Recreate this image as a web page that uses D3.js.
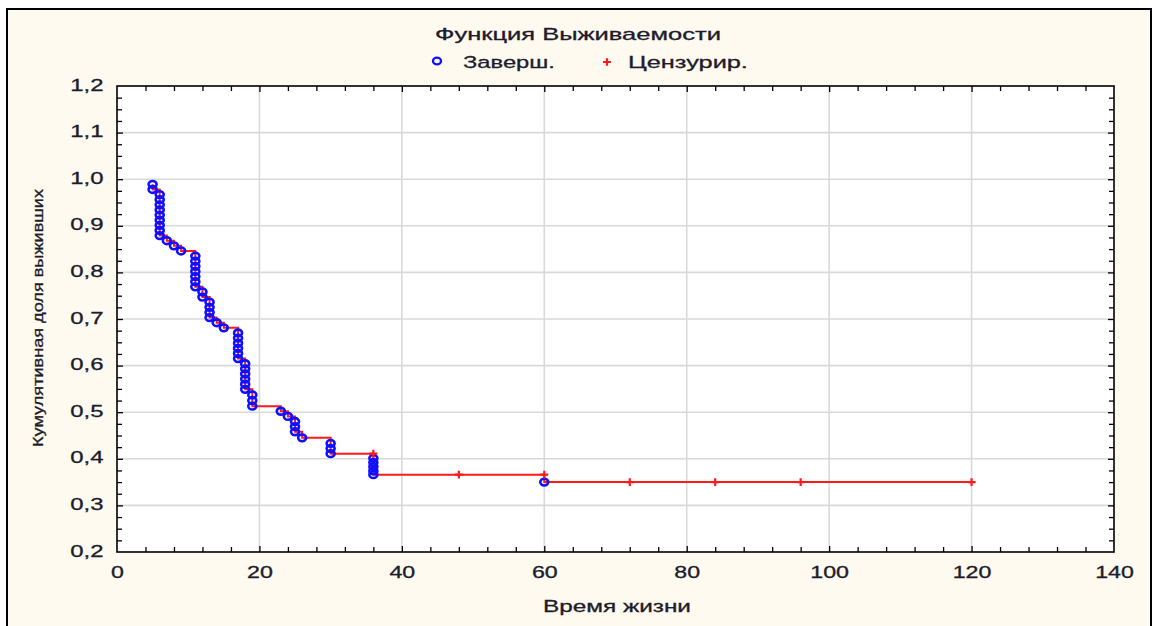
<!DOCTYPE html>
<html>
<head>
<meta charset="utf-8">
<script src="https://cdn.jsdelivr.net/npm/d3@7"></script>
<style>
  html, body { margin: 0; padding: 0; background: #ffffff; }
  svg { display: block; }
  text { font-family: "Liberation Sans", Arial, sans-serif; fill: #1c1c2c; stroke: #1c1c2c; stroke-width: 0.3px; }
</style>
</head>
<body>
<svg id="chart" width="1155" height="626"></svg>
<script>
// Product-limit estimate: completed observations (time, cumulative proportion surviving)
const completedTime = [
  5, 5,
  6, 6, 6, 6, 6, 6, 6, 6, 6,
  7, 8, 9,
  11, 11, 11, 11, 11, 11, 11,
  12, 12,
  13, 13, 13, 13,
  14, 15,
  17, 17, 17, 17, 17, 17,
  18, 18, 18, 18, 18, 18,
  19, 19, 19,
  23, 24,
  25, 25, 25,
  26,
  30, 30, 30,
  36, 36, 36, 36, 36,
  60
];
const completedSurv = [
  0.989, 0.978,
  0.967, 0.956, 0.945, 0.934, 0.923, 0.912, 0.901, 0.890, 0.879,
  0.868, 0.857, 0.846,
  0.835, 0.824, 0.813, 0.802, 0.791, 0.780, 0.769,
  0.758, 0.747,
  0.736, 0.725, 0.714, 0.703,
  0.692, 0.681,
  0.670, 0.659, 0.648, 0.637, 0.626, 0.615,
  0.604, 0.593, 0.582, 0.571, 0.560, 0.549,
  0.537, 0.525, 0.513,
  0.502, 0.491,
  0.480, 0.469, 0.458,
  0.445,
  0.433, 0.422, 0.411,
  0.401, 0.392, 0.383, 0.374, 0.366,
  0.350
];
// Censored observations
const censoredTime = [36, 48, 60, 72, 84, 96, 120];
const censoredSurv = [0.411, 0.366, 0.366, 0.350, 0.350, 0.350, 0.350];

const xTicks = [0, 20, 40, 60, 80, 100, 120, 140];
const yTicks = [0.2, 0.3, 0.4, 0.5, 0.6, 0.7, 0.8, 0.9, 1.0, 1.1, 1.2];
const xMinorStep = 4;
const yMinorStep = 0.025;

const titleText = "Функция Выживаемости";
const legendLabels = ["Заверш.", "Цензурир."];
const xTitle = "Время жизни";
const yTitle = "Кумулятивная доля выживших";

const svg = d3.select("#chart");
const W = 1155, H = 626;
const plot = { left: 117, top: 86, right: 1114, bottom: 552 };
const STRETCH = 1.45;   // the chart's type is drawn wide
const FS = 16;

const x = d3.scaleLinear().domain([0, 140]).range([plot.left, plot.right]);
const y = d3.scaleLinear().domain([0.2, 1.2]).range([plot.bottom, plot.top]);

const commaFmt = v => d3.format(".1f")(v).replace(".", ",");

// panel background and frame
svg.append("rect").attr("x", 0).attr("y", 0).attr("width", W).attr("height", H).attr("fill", "#ffffff");
svg.append("rect")
  .attr("x", 7).attr("y", 9).attr("width", 1144).attr("height", 660)
  .attr("fill", "#fffaf0").attr("stroke", "#000").attr("stroke-width", 2);

// plotting area
svg.append("rect")
  .attr("x", plot.left).attr("y", plot.top)
  .attr("width", plot.right - plot.left).attr("height", plot.bottom - plot.top)
  .attr("fill", "#ffffff");

// grid
const grid = svg.append("g").attr("stroke", "#d9d9d9").attr("stroke-width", 1.6);
grid.selectAll("line.gx").data(xTicks.slice(1, -1)).join("line")
  .attr("x1", d => x(d)).attr("x2", d => x(d))
  .attr("y1", plot.top).attr("y2", plot.bottom);
grid.selectAll("line.gy").data(yTicks.slice(1, -1)).join("line")
  .attr("x1", plot.left).attr("x2", plot.right)
  .attr("y1", d => y(d)).attr("y2", d => y(d));

// combined observation sequence for the step curve
const obs = completedTime.map((t, i) => ({ t, s: completedSurv[i], kind: "c" }))
  .concat(censoredTime.map((t, i) => ({ t, s: censoredSurv[i], kind: "z" })))
  .sort((a, b) => a.t - b.t || b.s - a.s);

const stepLine = d3.line()
  .x(d => x(d.t)).y(d => y(d.s))
  .curve(d3.curveStepAfter);

svg.append("path")
  .datum(obs)
  .attr("d", stepLine)
  .attr("fill", "none")
  .attr("stroke", "#ff1a1a")
  .attr("stroke-width", 2);

// completed: hollow blue circles
svg.append("g").selectAll("ellipse")
  .data(completedTime.map((t, i) => ({ t, s: completedSurv[i] })))
  .join("ellipse")
  .attr("cx", d => x(d.t)).attr("cy", d => y(d.s))
  .attr("rx", 4).attr("ry", 3.4)
  .attr("fill", "none").attr("stroke", "#1010ff").attr("stroke-width", 2.6);

// censored: red plus signs
const plusPath = "M-4,0H4M0,-3.8V3.8";
svg.append("g").selectAll("path")
  .data(censoredTime.map((t, i) => ({ t, s: censoredSurv[i] })))
  .join("path")
  .attr("transform", d => `translate(${x(d.t)},${y(d.s)})`)
  .attr("d", plusPath)
  .attr("fill", "none").attr("stroke", "#ff1a1a").attr("stroke-width", 2.2);

// plot border
svg.append("rect")
  .attr("x", plot.left).attr("y", plot.top)
  .attr("width", plot.right - plot.left).attr("height", plot.bottom - plot.top)
  .attr("fill", "none").attr("stroke", "#000").attr("stroke-width", 1.6);

// tick marks on all four sides, pointing inward
const xMinor = d3.range(0, 140.001, xMinorStep).filter(v => !xTicks.includes(v));
const yMinor = d3.range(0, 41).map(i => +(0.2 + i * yMinorStep).toFixed(3))
  .filter(v => !yTicks.some(t => Math.abs(t - v) < 1e-6));

function tickAxes(values, size) {
  const fmt = () => "";
  [[d3.axisBottom(x), plot.bottom], [d3.axisTop(x), plot.top]].forEach(([ax, pos]) => {
    const g = svg.append("g").attr("transform", `translate(0,${pos})`)
      .call(ax.tickValues(values.x).tickSize(-size).tickFormat(fmt));
    g.select(".domain").remove();
    g.selectAll("line").attr("stroke", "#000").attr("stroke-width", 1.3);
  });
  [[d3.axisLeft(y), plot.left], [d3.axisRight(y), plot.right]].forEach(([ax, pos]) => {
    const g = svg.append("g").attr("transform", `translate(${pos},0)`)
      .call(ax.tickValues(values.y).tickSize(-size).tickFormat(fmt));
    g.select(".domain").remove();
    g.selectAll("line").attr("stroke", "#000").attr("stroke-width", 1.3);
  });
}
tickAxes({ x: xMinor, y: yMinor }, 5);
tickAxes({ x: xTicks.slice(1, -1), y: yTicks.slice(1, -1) }, 6);

// tick labels
const xLab = svg.append("g").attr("transform", `translate(0,${plot.bottom})`)
  .call(d3.axisBottom(x).tickValues(xTicks).tickSize(0).tickPadding(15).tickFormat(d3.format("d")));
xLab.select(".domain").remove();
xLab.selectAll("text")
  .attr("font-size", FS).attr("font-family", "Liberation Sans, Arial, sans-serif")
  .attr("fill", "#1c1c2c")
  .attr("transform", `scale(${STRETCH},1)`);

const yLab = svg.append("g").attr("transform", `translate(${plot.left},0)`)
  .call(d3.axisLeft(y).tickValues(yTicks).tickSize(0).tickFormat(commaFmt));
yLab.select(".domain").remove();
yLab.selectAll("text")
  .attr("font-size", FS + 0.5).attr("font-family", "Liberation Sans, Arial, sans-serif")
  .attr("fill", "#1c1c2c")
  .attr("x", 0).attr("dy", "0.25em")
  .attr("transform", `translate(-13.5,0) scale(${STRETCH},1)`);

// text stretched to a given width
function wideText(cx, cy, str, size, width, anchor) {
  const g = svg.append("g");
  const t = g.append("text").attr("font-size", size).attr("text-anchor", anchor || "middle").text(str);
  const natural = t.node().getComputedTextLength();
  g.attr("transform", `translate(${cx},${cy}) scale(${width / natural},1)`);
  return g;
}

// title and legend
wideText(578, 40, titleText, 16, 286);
svg.append("ellipse").attr("cx", 437).attr("cy", 61).attr("rx", 4).attr("ry", 3.4)
  .attr("fill", "none").attr("stroke", "#1010ff").attr("stroke-width", 2.4);
wideText(463, 68, legendLabels[0], 16.5, 92, "start");
svg.append("path").attr("transform", "translate(607,62)").attr("d", plusPath)
  .attr("fill", "none").attr("stroke", "#ff1a1a").attr("stroke-width", 2.2);
wideText(628, 68, legendLabels[1], 16.5, 120, "start");

// axis titles
wideText(617, 612, xTitle, 16, 148);

const yt = svg.append("g");
const ytt = yt.append("text").attr("font-size", 14).attr("text-anchor", "middle").text(yTitle);
const yNat = ytt.node().getComputedTextLength();
yt.attr("transform", `translate(43,318) rotate(-90) scale(${258 / yNat},1)`);
</script>
</body>
</html>
